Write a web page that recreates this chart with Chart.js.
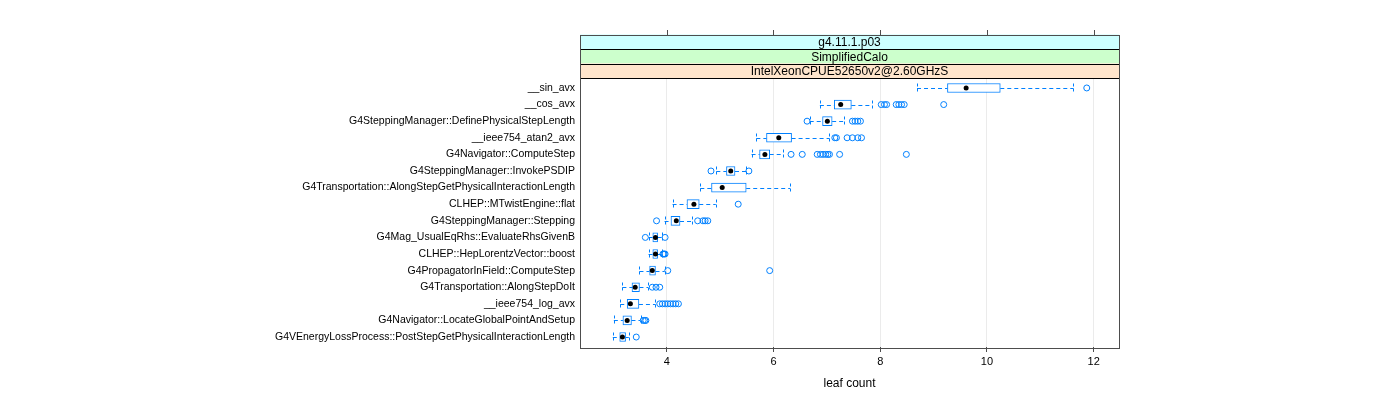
<!DOCTYPE html>
<html>
<head>
<meta charset="utf-8">
<style>
    html, body { margin: 0; padding: 0; background: #fff; }
    .container { width: 1400px; height: 400px; }
</style>
<script src="https://cdn.jsdelivr.net/npm/chart.js@4.4.0/dist/chart.umd.min.js"></script>
</head>
<body>
<div class="container">
    <canvas id="myChart" width="1400" height="400"></canvas>
</div>
<script>
    // functions, top to bottom
    const labels = [
        '__sin_avx',
        '__cos_avx',
        'G4SteppingManager::DefinePhysicalStepLength',
        '__ieee754_atan2_avx',
        'G4Navigator::ComputeStep',
        'G4SteppingManager::InvokePSDIP',
        'G4Transportation::AlongStepGetPhysicalInteractionLength',
        'CLHEP::MTwistEngine::flat',
        'G4SteppingManager::Stepping',
        'G4Mag_UsualEqRhs::EvaluateRhsGivenB',
        'CLHEP::HepLorentzVector::boost',
        'G4PropagatorInField::ComputeStep',
        'G4Transportation::AlongStepDoIt',
        '__ieee754_log_avx',
        'G4Navigator::LocateGlobalPointAndSetup',
        'G4VEnergyLossProcess::PostStepGetPhysicalInteractionLength'
    ]

    const lowWhisker = [8.69, 6.87, 6.68, 5.68, 5.59, 4.93, 4.63, 4.11, 3.96, 3.66, 3.66, 3.49, 3.17, 3.13, 3.01, 2.99]
    const lowerQuartile = [9.26, 7.14, 6.92, 5.87, 5.74, 5.12, 4.84, 4.38, 4.08, 3.74, 3.74, 3.68, 3.35, 3.26, 3.18, 3.12]
    const medians = [9.61, 7.26, 7.01, 6.10, 5.84, 5.20, 5.04, 4.51, 4.18, 3.79, 3.79, 3.73, 3.41, 3.32, 3.26, 3.17]
    const upperQuartile = [10.25, 7.46, 7.10, 6.34, 5.93, 5.28, 5.49, 4.61, 4.25, 3.83, 3.83, 3.79, 3.49, 3.48, 3.34, 3.23]
    const highWhisker = [11.62, 7.85, 7.32, 7.05, 6.17, 5.49, 6.31, 4.92, 4.47, 3.91, 3.91, 3.96, 3.65, 3.79, 3.51, 3.29]
    const outliers = [
        [11.87],
        [8.02, 8.08, 8.12, 8.30, 8.35, 8.40, 8.45, 9.19],
        [6.63, 7.48, 7.53, 7.58, 7.63],
        [7.15, 7.18, 7.38, 7.48, 7.58, 7.65],
        [6.33, 6.54, 6.82, 6.88, 6.93, 6.98, 7.02, 7.05, 7.24, 8.49],
        [4.83, 5.54],
        [],
        [5.34],
        [3.81, 4.58, 4.68, 4.72, 4.77],
        [3.60, 3.97],
        [3.93, 3.95, 3.97],
        [4.02, 5.93],
        [3.73, 3.80, 3.87],
        [3.87, 3.92, 3.97, 4.02, 4.07, 4.12, 4.17, 4.22],
        [3.56, 3.59, 3.61],
        [3.43]
    ]
    const xTicks = [4, 6, 8, 10, 12]
    const strips = ['g4.11.1.p03', 'SimplifiedCalo', 'IntelXeonCPUE52650v2@2.60GHzS']

    const blue = '#0080ff'
    const font = 'Liberation Sans, Arial, sans-serif'

    // whiskers drawn through the chart scales
    const whiskerPlugin = {
        id: 'whiskers',
        beforeDatasetsDraw(chart) {
            const { ctx, scales: { x, y } } = chart
            ctx.save()
            ctx.strokeStyle = blue
            ctx.lineWidth = 1
            labels.forEach((l, i) => {
                const py = Math.round(y.getPixelForValue(i)) + 0.5
                const segs = [[lowWhisker[i], lowerQuartile[i]], [upperQuartile[i], highWhisker[i]]]
                ctx.setLineDash([4, 3])
                segs.forEach(s => {
                    ctx.beginPath()
                    ctx.moveTo(x.getPixelForValue(s[0]), py)
                    ctx.lineTo(x.getPixelForValue(s[1]), py)
                    ctx.stroke()
                })
                ctx.setLineDash([3, 2])
                ;[lowWhisker[i], highWhisker[i]].forEach(v => {
                    const px = Math.round(x.getPixelForValue(v)) + 0.5
                    ctx.beginPath()
                    ctx.moveTo(px, py - 5)
                    ctx.lineTo(px, py + 5)
                    ctx.stroke()
                })
            })
            ctx.restore()
        }
    }

    // strips and frame around the panel
    const stripPlugin = {
        id: 'strips',
        afterDraw(chart) {
            const { ctx, chartArea: a, scales: { x } } = chart
            const colors = ['#ccffff', '#ccffcc', '#ffe5cc']
            const h = 14.5
            const top = a.top - h * strips.length
            ctx.save()
            strips.forEach((s, i) => {
                ctx.fillStyle = colors[i]
                ctx.fillRect(a.left, top + i * h, a.right - a.left, h)
            })
            strips.forEach((s, i) => {
                const y0 = top + i * h
                ctx.strokeStyle = '#000'
                ctx.lineWidth = 1
                ctx.beginPath()
                ctx.moveTo(a.left, Math.round(y0 + h) + 0.5)
                ctx.lineTo(a.right, Math.round(y0 + h) + 0.5)
                ctx.stroke()
                ctx.fillStyle = '#000'
                ctx.font = '12px ' + font
                ctx.textAlign = 'center'
                ctx.textBaseline = 'middle'
                ctx.fillText(s, (a.left + a.right) / 2, y0 + h / 2 + 1)
            })
            ctx.strokeStyle = '#4d4d4d'
            ctx.lineWidth = 1
            ctx.strokeRect(Math.round(a.left) + 0.5, Math.round(top) + 0.5, Math.round(a.right - a.left), Math.round(a.bottom - top))
            // ticks on the top edge
            xTicks.forEach(v => {
                const px = Math.round(x.getPixelForValue(v)) + 0.5
                ctx.beginPath()
                ctx.moveTo(px, Math.round(top) - 5)
                ctx.lineTo(px, Math.round(top))
                ctx.stroke()
            })
            ctx.restore()
        }
    }

    const ctx = document.getElementById('myChart').getContext('2d')
    const chart = new Chart(ctx, {
        type: 'bar',
        data: {
            datasets: [{
                label: 'box',
                data: labels.map((l, i) => ({ x: [lowerQuartile[i], upperQuartile[i]], y: i })),
                backgroundColor: 'rgba(255,255,255,1)',
                borderColor: blue,
                borderWidth: 1,
                borderSkipped: false,
                barThickness: 9,
                order: 3
            }, {
                type: 'scatter',
                label: 'median',
                data: labels.map((l, i) => ({ x: medians[i], y: i })),
                pointRadius: 2.5,
                pointBackgroundColor: '#000',
                pointBorderColor: '#000',
                pointBorderWidth: 0,
                order: 1
            }, {
                type: 'scatter',
                label: 'outliers',
                data: outliers.flatMap((arr, i) => arr.map(v => ({ x: v, y: i }))),
                pointRadius: 3,
                pointBackgroundColor: 'rgba(0,0,0,0)',
                pointBorderColor: blue,
                pointBorderWidth: 1,
                order: 2
            }]
        },
        options: {
            indexAxis: 'y',
            responsive: false,
            maintainAspectRatio: false,
            animation: false,
            layout: { padding: { left: 0, right: 281, top: 78, bottom: 0 } },
            plugins: {
                legend: { display: false },
                tooltip: { enabled: false }
            },
            scales: {
                x: {
                    type: 'linear',
                    min: 2.376,
                    max: 12.474,
                    afterBuildTicks: s => { s.ticks = xTicks.map(v => ({ value: v })) },
                    afterFit: s => { s.height = 53 },
                    grid: { color: '#ebebeb', tickColor: '#4d4d4d', tickLength: 5 },
                    border: { display: false },
                    ticks: { color: '#000', font: { family: font, size: 11 }, padding: 3, maxRotation: 0 },
                    title: { display: true, text: 'leaf count', color: '#000', font: { family: font, size: 12 }, padding: { top: 4, bottom: 9 } }
                },
                y: {
                    type: 'linear',
                    reverse: true,
                    offset: false,
                    min: -0.6,
                    max: labels.length - 0.4,
                    afterBuildTicks: s => { s.ticks = labels.map((l, i) => ({ value: i })) },
                    afterFit: s => { s.width = 580 },
                    grid: { display: false, drawTicks: false },
                    border: { display: false },
                    ticks: { color: '#000', font: { family: font, size: 10.5 }, padding: 5, autoSkip: false, callback: v => labels[v] }
                }
            }
        },
        plugins: [whiskerPlugin, stripPlugin]
    })
</script>
</body>
</html>
